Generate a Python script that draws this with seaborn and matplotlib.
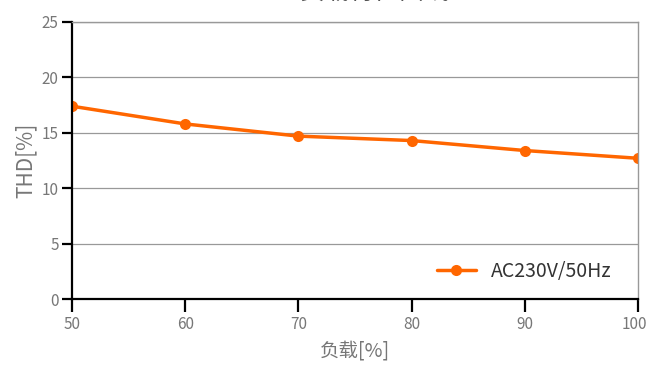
import matplotlib
matplotlib.use("Agg")
import matplotlib.pyplot as plt
import matplotlib.transforms as mtransforms
import seaborn as sns
import pandas as pd

load = [50, 60, 70, 80, 90, 100]
thd = [17.4, 15.8, 14.7, 14.3, 13.4, 12.7]
series_name = "AC230V/50Hz"
title = "负载特性曲线"
xlabel = "负载[%]"
ylabel = "THD[%]"
yticks = [0, 5, 10, 15, 20, 25]

sns.set_theme(style="white")
plt.rcParams['font.family'] = ['Noto Sans CJK SC', 'DejaVu Sans']

df = pd.DataFrame({"load": load, "thd": thd, "series": series_name})

fig = plt.figure(figsize=(6.49, 3.65), dpi=100)
ax = fig.add_axes([72/649, 66/365, (638-72)/649, (299-22)/365])

sns.lineplot(data=df, x="load", y="thd", hue="series", palette=["#FF6600"],
             marker="o", markersize=8, markeredgewidth=0, linewidth=2.5, ax=ax)

ax.set_xlim(50, 100)
ax.set_ylim(0, 25)
ax.set_xticks(load)
ax.set_yticks(yticks)
ax.yaxis.grid(True, color="#999999", linewidth=0.9)
ax.xaxis.grid(False)
ax.set_axisbelow(True)

for s in ["left", "bottom"]:
    ax.spines[s].set_color("black")
    ax.spines[s].set_linewidth(1.6)
for s in ["top", "right"]:
    ax.spines[s].set_color("#999999")
    ax.spines[s].set_linewidth(1.0)

ax.tick_params(axis="both", direction="out", width=1.6, color="black",
               labelcolor="#777777", labelsize=11, bottom=True, left=True)
ax.tick_params(axis="x", length=9, pad=3.5)
ax.tick_params(axis="y", length=7.5, pad=2)
ax.set_xlabel(xlabel, fontsize=14, color="#777777", labelpad=5)
ax.set_ylabel(ylabel, fontsize=15, color="#777777", labelpad=4)

# nudge the last x tick label so it stays inside the figure
last = ax.get_xticklabels()[-1]
last.set_transform(last.get_transform() + mtransforms.ScaledTranslation(-4/100, 0, fig.dpi_scale_trans))

leg = ax.legend(loc="lower right", frameon=False, fontsize=14, handlelength=2.0,
                bbox_to_anchor=(0.985, 0.0))
for t in leg.get_texts():
    t.set_color("#333333")

fig.text(375/649, 1.022, title, ha="center", va="center", fontsize=18, color="#555555")

fig.savefig("out.png", dpi=100)
